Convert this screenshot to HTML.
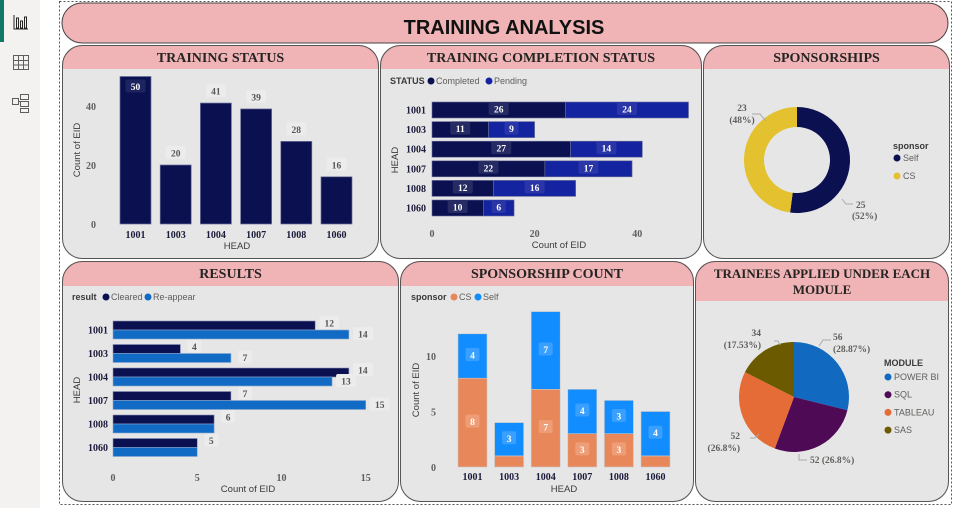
<!DOCTYPE html>
<html><head><meta charset="utf-8">
<style>
html,body{margin:0;padding:0;width:969px;height:508px;overflow:hidden;background:#fff;font-family:"Liberation Sans",sans-serif}
svg{display:block}
.ttl{font-family:"Liberation Serif",serif;font-weight:bold;fill:#252423}
.tk{font-family:"Liberation Serif",serif;font-weight:bold;font-size:10px;fill:#605e5c}
.cat{font-family:"Liberation Serif",serif;font-weight:bold;font-size:10px;fill:#1a1a3a}
.ax{font-size:9.5px;fill:#3a3a3a}
.lg{font-size:9px;fill:#605e5c}
.lgb{font-size:9px;fill:#3a3a3a;font-weight:bold}
.vl{font-family:"Liberation Serif",serif;font-weight:bold;font-size:9.5px}
</style></head><body>
<svg id="root" width="969" height="508" viewBox="0 0 969 508">
  <rect x="0" y="0" width="40" height="508" fill="#f3f2f1"/>
  <rect x="0" y="0" width="4" height="42" fill="#117865"/>
  <g fill="none" stroke="#252423" stroke-width="1">
    <path d="M14 15 V29 H28"/><rect x="16.5" y="18" width="2" height="10"/><rect x="20.5" y="21" width="2" height="7"/><rect x="24.5" y="17" width="2" height="11"/>
  </g>
  <g fill="none" stroke="#605e5c" stroke-width="1">
    <rect x="13.5" y="55.5" width="15" height="14"/><path d="M13.5 60.5H28.5M13.5 65H28.5M18.5 55.5V69.5M23.5 55.5V69.5"/>
  </g>
  <g fill="none" stroke="#605e5c" stroke-width="1">
    <rect x="12.5" y="98.5" width="6" height="6"/><rect x="20.5" y="94.5" width="8" height="5"/><rect x="20.5" y="101.5" width="8" height="5"/><rect x="20.5" y="108.5" width="8" height="4"/><path d="M18.5 101.5H20.5"/>
  </g>
  <rect x="59.5" y="1.5" width="892" height="503" fill="none" stroke="#555" stroke-dasharray="2,2"/>
  <g>
    <rect x="62" y="3" width="886" height="40" rx="20" fill="#f0b4b6" stroke="#444" stroke-width="1"/>
    <text x="504" y="34" text-anchor="middle" font-size="20" font-weight="bold" fill="#111" font-family="Liberation Sans,sans-serif">TRAINING ANALYSIS</text>
  </g>
  <g id="panels"></g>
  <g id="charts"></g>
</svg>
<script>
// ---- data ----
const heads = ["1001","1003","1004","1007","1008","1060"];
const statusCounts = [50,20,41,39,28,16];
const completed = [26,11,27,22,12,10];
const pending = [24,9,14,17,16,6];
const sponsorLabels = ["Self","CS"];
const sponsorValues = [25,23];
const sponsorPct = ["52%","48%"];
const cleared = [12,4,14,7,6,5];
const reappear = [14,7,13,15,6,5];
const csCount = [8,1,7,3,3,1];
const selfCount = [4,3,7,4,3,4];
const modules = ["POWER BI","SQL","TABLEAU","SAS"];
const moduleValues = [56,52,52,34];
const modulePct = ["28.87%","26.8%","26.8%","17.53%"];
const ticks1 = [0,20,40];
const ticks2 = [0,20,40];
const ticks4 = [0,5,10,15];
const ticks5 = [0,5,10];

const NS="http://www.w3.org/2000/svg";
function mk(tag, attrs, parent, txt){const e=document.createElementNS(NS,tag);for(const k in attrs)e.setAttribute(k,attrs[k]);if(txt!==undefined)e.textContent=txt;(parent||document.getElementById('charts')).appendChild(e);return e;}

// panels
const P=document.getElementById('panels');
function panel(name,x,y,w,h,hh,fs,lines){
  const g=mk('g',{},P);
  
  
  const id='clip'+name;
  const cp=mk('clipPath',{id:id},g);mk('rect',{x:x,y:y,width:w,height:h,rx:20},cp);
  mk('rect',{x:x,y:y,width:w,height:h,fill:'#e6e6e6','clip-path':'url(#'+id+')'},g);
  mk('rect',{x:x,y:y,width:w,height:hh,fill:'#f0b4b6','clip-path':'url(#'+id+')'},g);
  mk('rect',{x:x+0.5,y:y+0.5,width:w-1,height:h-1,rx:20,fill:'none',stroke:'#555','stroke-width':1},g);
  lines.forEach((t,i)=>{const tt=mk('text',{x:x+w/2,y:y+17+i*16,'text-anchor':'middle','font-size':fs,class:'ttl'},g,t);
    });
}
panel('training-status-panel',62,45,317,214,24,14,['TRAINING STATUS']);
panel('completion-status-panel',380,45,322,214,24,14,['TRAINING COMPLETION STATUS']);
panel('sponsorships-panel',703,45,247,214,24,14,['SPONSORSHIPS']);
panel('results-panel',62,261,337,241,25,14,['RESULTS']);
panel('sponsorship-count-panel',400,261,294,241,25,14,['SPONSORSHIP COUNT']);
panel('module-panel',695,261,254,241,40,13,['TRAINEES APPLIED UNDER EACH','MODULE']);

function label(x,y,t,cls,fill,bg,name){
  const g=mk('g',{});
  
  
  const w=t.length*6+8;
  if(bg)mk('rect',{x:x-w/2,y:y-8,width:w,height:13,rx:2,fill:bg},g);
  mk('text',{x:x,y:y+2.5,'text-anchor':'middle',class:cls,fill:fill},g,t);
}

// ---- chart 1: training status ----
(function(){
  const y0=224, k=2.95, x0=120, step=40.2, bw=31;
  const Y=v=>y0-v*k, X=i=>x0+i*step;
  ticks1.forEach(t=>{const e=mk('text',{x:96,y:Y(t)+4,'text-anchor':'end',class:'tk'},undefined,t);});
  const yt=mk('text',{x:0,y:0,transform:'translate(80,150) rotate(-90)','text-anchor':'middle',class:'ax'},undefined,'Count of EID');
  
  statusCounts.forEach((v,i)=>{
    const r=mk('rect',{x:X(i),y:Y(v),width:bw,height:v*k,fill:'#0b1150',stroke:'#6b6f9a','stroke-width':0.7});
    
    const inside = Y(v)<90;
    label(X(i)+bw/2, inside?Y(v)+11:Y(v)-11, String(v),'vl',inside?'#fff':'#555',inside?'#1e2460':'#ececec','status-value-label');
    const c=mk('text',{x:X(i)+bw/2,y:238,'text-anchor':'middle',class:'cat'},undefined,heads[i]);
    
  });
  const xt=mk('text',{x:237,y:249,'text-anchor':'middle',class:'ax'},undefined,'HEAD');
  
})();

// ---- chart 2: completion status ----
(function(){
  const x0=432,k=5.13,y1=110,step=19.6,bh=16;
  const X=v=>x0+v*k, Y=i=>y1+i*step;
  const lg=mk('g',{});
  mk('text',{x:390,y:84,class:'lgb'},lg,'STATUS');
  mk('circle',{cx:431,cy:81,r:3.5,fill:'#0b1150'},lg);mk('text',{x:436,y:84,class:'lg'},lg,'Completed');
  mk('circle',{cx:489,cy:81,r:3.5,fill:'#1424a0'},lg);mk('text',{x:494,y:84,class:'lg'},lg,'Pending');
  heads.forEach((h,i)=>{
    const a=mk('rect',{x:X(0),y:Y(i)-bh/2,width:completed[i]*k,height:bh,fill:'#0b1150',stroke:'#6b6f9a','stroke-width':0.6});
    
    const b=mk('rect',{x:X(completed[i]),y:Y(i)-bh/2,width:pending[i]*k,height:bh,fill:'#1424a0',stroke:'#6b6f9a','stroke-width':0.6});
    
    label(X(completed[i]/2),Y(i),String(completed[i]),'vl','#fff','#262b63','completed-value-label');
    label(X(completed[i]+pending[i]/2),Y(i),String(pending[i]),'vl','#fff','#2a36a8','pending-value-label');
    const c=mk('text',{x:426,y:Y(i)+3.5,'text-anchor':'end',class:'cat'},undefined,h);
    
  });
  ticks2.forEach(t=>{const e=mk('text',{x:X(t),y:237,'text-anchor':'middle',class:'tk'},undefined,t);});
  const xt=mk('text',{x:559,y:248,'text-anchor':'middle',class:'ax'},undefined,'Count of EID');
  
  const yt=mk('text',{x:0,y:0,transform:'translate(398,160) rotate(-90)','text-anchor':'middle',class:'ax'},undefined,'HEAD');
  
})();

function arc(cx,cy,r0,r1,a0,a1){
  const p=(r,a)=>[cx+r*Math.sin(a),cy-r*Math.cos(a)];
  const lf=(a1-a0)>Math.PI?1:0;
  const [x1,y1]=p(r1,a0),[x2,y2]=p(r1,a1);
  if(r0===0)return `M${cx},${cy}L${x1},${y1}A${r1},${r1} 0 ${lf} 1 ${x2},${y2}Z`;
  const [x3,y3]=p(r0,a1),[x4,y4]=p(r0,a0);
  return `M${x1},${y1}A${r1},${r1} 0 ${lf} 1 ${x2},${y2}L${x3},${y3}A${r0},${r0} 0 ${lf} 0 ${x4},${y4}Z`;
}

// ---- chart 3: donut ----
(function(){
  const cx=797,cy=160,r1=53,r0=33,cols=['#0b1150','#e3c12f'];
  const tot=sponsorValues.reduce((a,b)=>a+b,0);let a=0;
  sponsorValues.forEach((v,i)=>{const a1=a+v/tot*2*Math.PI;
    const s=mk('path',{d:arc(cx,cy,r0,r1,a,a1),fill:cols[i]});a=a1;});
  const l1=mk('g',{});
  mk('text',{x:742,y:111,'text-anchor':'middle',class:'vl',fill:'#605e5c'},l1,String(sponsorValues[1]));
  mk('text',{x:742,y:123,'text-anchor':'middle',class:'vl',fill:'#605e5c'},l1,'('+sponsorPct[1]+')');
  mk('path',{d:'M752 114 L760 114 L766 121',fill:'none',stroke:'#aaa'},l1);
  const l2=mk('g',{});
  mk('text',{x:856,y:208,class:'vl',fill:'#605e5c'},l2,String(sponsorValues[0]));
  mk('text',{x:852,y:219,class:'vl',fill:'#605e5c'},l2,'('+sponsorPct[0]+')');
  mk('path',{d:'M842 199 L846 204 L853 204',fill:'none',stroke:'#aaa'},l2);
  const lg=mk('g',{});
  mk('text',{x:893,y:149,class:'lgb'},lg,'sponsor');
  sponsorLabels.forEach((s,i)=>{mk('circle',{cx:897,cy:158+i*18,r:3.5,fill:cols[i]},lg);mk('text',{x:903,y:161+i*18,class:'lg'},lg,s);});
})();

// ---- chart 4: results ----
(function(){
  const x0=113,k=16.85,y1=330,step=23.5,bh=9;
  const X=v=>x0+v*k, Y=i=>y1+i*step;
  const lg=mk('g',{});
  mk('text',{x:72,y:300,class:'lgb'},lg,'result');
  mk('circle',{cx:106,cy:297,r:3.5,fill:'#0b1150'},lg);mk('text',{x:111,y:300,class:'lg'},lg,'Cleared');
  mk('circle',{cx:148,cy:297,r:3.5,fill:'#116bc5'},lg);mk('text',{x:153,y:300,class:'lg'},lg,'Re-appear');
  heads.forEach((h,i)=>{
    const a=mk('rect',{x:X(0),y:Y(i)-bh,width:cleared[i]*k,height:bh,fill:'#0b1150',stroke:'#8a90b8','stroke-width':0.6});
    
    const b=mk('rect',{x:X(0),y:Y(i),width:reappear[i]*k,height:bh,fill:'#116bc5',stroke:'#8aa8d0','stroke-width':0.6});
    
    label(X(cleared[i])+14,Y(i)-6,String(cleared[i]),'vl','#555','#ececec','cleared-value-label');
    if(reappear[i]!==cleared[i])label(X(reappear[i])+14,Y(i)+5,String(reappear[i]),'vl','#555','#ececec','reappear-value-label');
    const c=mk('text',{x:108,y:Y(i)+3.5,'text-anchor':'end',class:'cat'},undefined,h);
    
  });
  ticks4.forEach(t=>{const e=mk('text',{x:X(t),y:481,'text-anchor':'middle',class:'tk'},undefined,t);});
  const xt=mk('text',{x:248,y:492,'text-anchor':'middle',class:'ax'},undefined,'Count of EID');
  
  const yt=mk('text',{x:0,y:0,transform:'translate(80,390) rotate(-90)','text-anchor':'middle',class:'ax'},undefined,'HEAD');
  
})();

// ---- chart 5: sponsorship count ----
(function(){
  const y0=467,k=11.1,x0=458,step=36.6,bw=29;
  const Y=v=>y0-v*k, X=i=>x0+i*step;
  const lg=mk('g',{});
  mk('text',{x:411,y:300,class:'lgb'},lg,'sponsor');
  mk('circle',{cx:454,cy:297,r:3.5,fill:'#e8885a'},lg);mk('text',{x:459,y:300,class:'lg'},lg,'CS');
  mk('circle',{cx:478,cy:297,r:3.5,fill:'#118dff'},lg);mk('text',{x:483,y:300,class:'lg'},lg,'Self');
  ticks5.forEach(t=>{const e=mk('text',{x:436,y:Y(t)+4,'text-anchor':'end',class:'tk'},undefined,t);});
  const yt=mk('text',{x:0,y:0,transform:'translate(419,390) rotate(-90)','text-anchor':'middle',class:'ax'},undefined,'Count of EID');
  
  heads.forEach((h,i)=>{
    const c=csCount[i],s=selfCount[i];
    const a=mk('rect',{x:X(i),y:Y(c),width:bw,height:c*k,fill:'#e8885a',stroke:'#c9c9c9','stroke-width':0.6});
    
    const b=mk('rect',{x:X(i),y:Y(c+s),width:bw,height:s*k,fill:'#118dff',stroke:'#c9c9c9','stroke-width':0.6});
    
    if(c>=2)label(X(i)+bw/2,Y(c/2),String(c),'vl','#fff','#ef9d76','cs-value-label');
    label(X(i)+bw/2,Y(c+s/2),String(s),'vl','#fff','#3aa0ff','self-value-label');
    const t=mk('text',{x:X(i)+bw/2,y:480,'text-anchor':'middle',class:'cat'},undefined,h);
    
  });
  const xt=mk('text',{x:564,y:492,'text-anchor':'middle',class:'ax'},undefined,'HEAD');
  
})();

// ---- chart 6: module pie ----
(function(){
  const cx=794,cy=397,r=55,cols=['#1169c0','#4f0a55','#e66c37','#6b5a00'];
  const tot=moduleValues.reduce((a,b)=>a+b,0);let a=0;
  moduleValues.forEach((v,i)=>{const a1=a+v/tot*2*Math.PI;
    const s=mk('path',{d:arc(cx,cy,0,r,a,a1),fill:cols[i]});a=a1;});
  function pl(name,lines,anchor,path){const g=mk('g',{});
    lines.forEach(l=>mk('text',{x:l[0],y:l[1],'text-anchor':anchor,class:'vl',fill:'#605e5c'},g,l[2]));
    mk('path',{d:path,fill:'none',stroke:'#aaa'},g);}
  pl('pie-label-power-bi',[[833,340,moduleValues[0]],[833,352,'('+modulePct[0]+')']],'start','M819 346 L823 340 L831 340');
  pl('pie-label-sql',[[810,463,moduleValues[1]+' ('+modulePct[1]+')']],'start','M799 454 L799 460 L807 460');
  pl('pie-label-tableau',[[740,439,moduleValues[2]],[740,451,'('+modulePct[2]+')']],'end','M750 438 L755 438 L759 434');
  pl('pie-label-sas',[[761,336,moduleValues[3]],[761,348,'('+modulePct[3]+')']],'end','M774 341 L778 341 L780 345');
  const lg=mk('g',{});
  mk('text',{x:884,y:366,class:'lgb'},lg,'MODULE');
  modules.forEach((m,i)=>{mk('circle',{cx:888,cy:377+i*17.7,r:3.5,fill:cols[i]},lg);mk('text',{x:894,y:380+i*17.7,class:'lg'},lg,m);});
})();
</script>
</body></html>
